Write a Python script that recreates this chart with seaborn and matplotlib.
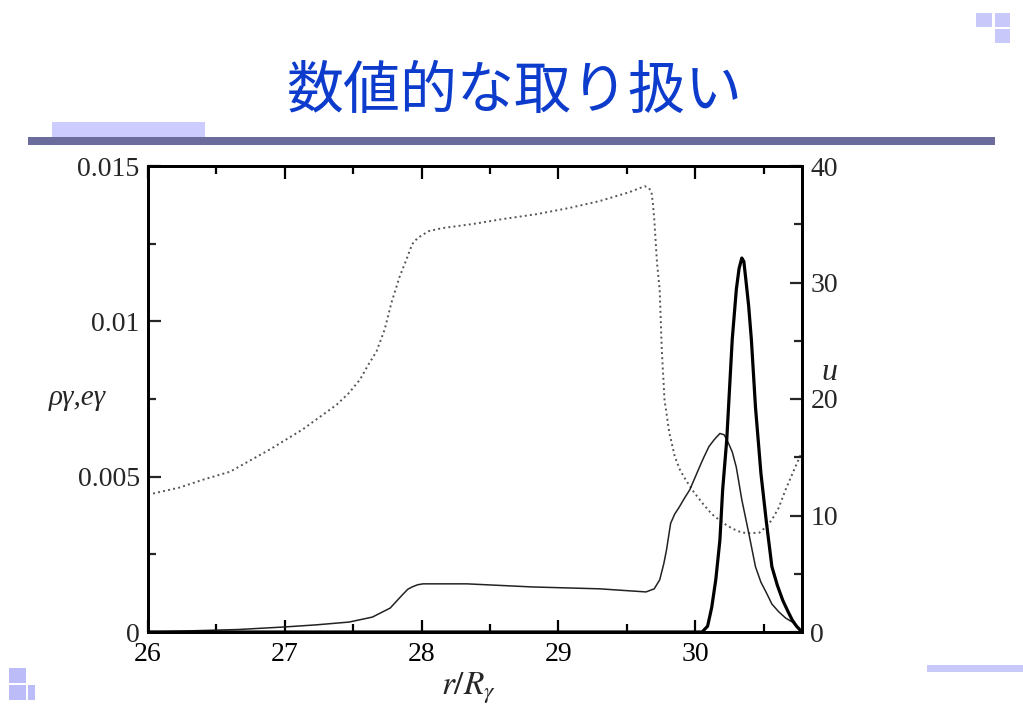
import matplotlib
matplotlib.use("Agg")
import matplotlib.pyplot as plt
import seaborn as sns
import pandas as pd
from matplotlib.patches import Rectangle
from matplotlib.ticker import MultipleLocator

# ---------------- data ----------------
dot_x = [26.00, 26.23, 26.40, 26.60, 26.75, 26.90, 27.13, 27.38, 27.47, 27.55,
         27.61, 27.67, 27.73, 27.78, 27.84, 27.89, 27.93, 27.97, 28.05, 28.15,
         28.37, 28.59, 28.84, 29.08, 29.30, 29.52, 29.63, 29.66, 29.68, 29.69,
         29.70, 29.72, 29.74, 29.755, 29.775, 29.81, 29.85, 29.89, 29.93, 29.99,
         30.05, 30.12, 30.20, 30.27, 30.34, 30.40, 30.47, 30.52, 30.56, 30.61,
         30.66, 30.72, 30.78]
dot_y = [0.00442, 0.00465, 0.00490, 0.00516, 0.00553, 0.00590, 0.00652, 0.00732, 0.00770, 0.00813,
         0.00860, 0.00903, 0.00974, 0.01061, 0.01145, 0.01200, 0.01248, 0.01268, 0.01290, 0.01300,
         0.01313, 0.01329, 0.01345, 0.01365, 0.01387, 0.01416, 0.01435, 0.01430, 0.01416, 0.01380,
         0.01330, 0.01190, 0.01100, 0.00910, 0.00748, 0.00642, 0.00565, 0.00520, 0.00490, 0.00450,
         0.00416, 0.00380, 0.00352, 0.00333, 0.00320, 0.00318, 0.00320, 0.00340, 0.00361, 0.00400,
         0.00458, 0.00520, 0.00580]

thin_x = [26.00, 26.66, 26.99, 27.23, 27.47, 27.64, 27.77, 27.86, 27.90, 27.93,
          27.97, 28.01, 28.33, 28.81, 29.30, 29.64, 29.70, 29.74, 29.77, 29.79,
          29.82, 29.85, 29.88, 29.92, 29.96, 30.03, 30.06, 30.10, 30.14, 30.18,
          30.21, 30.23, 30.27, 30.30, 30.34, 30.39, 30.44, 30.48, 30.52, 30.56,
          30.61, 30.66, 30.71, 30.78]
thin_y = [0.0, 0.00008, 0.00016, 0.00023, 0.00032, 0.00048, 0.00077, 0.00120, 0.00138, 0.00145,
          0.00152, 0.00155, 0.00155, 0.00145, 0.00139, 0.00129, 0.00139, 0.00168, 0.00220, 0.00265,
          0.00350, 0.00380, 0.00400, 0.00430, 0.00458, 0.00530, 0.00560, 0.00597, 0.00620, 0.00639,
          0.00635, 0.00620, 0.00580, 0.00530, 0.00426, 0.00320, 0.00210, 0.00160, 0.00126, 0.00090,
          0.00065, 0.00045, 0.00032, 0.0]

u_x = [26.00, 30.05, 30.09, 30.12, 30.15, 30.18, 30.20, 30.23, 30.25, 30.27,
       30.30, 30.32, 30.34, 30.355, 30.37, 30.39, 30.41, 30.44, 30.48, 30.52,
       30.56, 30.60, 30.64, 30.68, 30.71, 30.74, 30.78]
u_y = [0.0, 0.0, 0.5, 2.1, 4.5, 7.9, 12.2, 16.5, 20.8, 25.1,
       29.4, 31.2, 32.1, 31.8, 30.2, 28.0, 25.1, 19.3, 13.6, 9.4,
       5.6, 4.0, 2.7, 1.7, 1.0, 0.5, 0.0]

x_ticks = [26, 27, 28, 29, 30]
x_tick_labels = ["26", "27", "28", "29", "30"]
left_ticks = [0, 0.005, 0.01, 0.015]
left_tick_labels = ["0", "0.005", "0.01", "0.015"]
right_ticks = [0, 10, 20, 30, 40]
right_tick_labels = ["0", "10", "20", "30", "40"]

title_text = "数値的な取り扱い"
left_label = "ργ,eγ"
right_label = "u"
x_label = r"$r/R_\gamma$"

# ---------------- style ----------------
sns.set_style("white")
plt.rcParams["font.family"] = ["Liberation Serif", "DejaVu Serif"]
plt.rcParams["mathtext.fontset"] = "stix"

W, H = 1023, 708
fig = plt.figure(figsize=(W / 100, H / 100), dpi=100)
fig.patch.set_facecolor("white")


def rect(x0, y0, x1, y1, color):
    fig.add_artist(Rectangle((x0 / W, 1 - y1 / H), (x1 - x0) / W, (y1 - y0) / H,
                             transform=fig.transFigure, facecolor=color,
                             edgecolor="none", zorder=0))


# decorations
rect(28, 137, 995, 145, "#6b6b9c")
rect(52, 122, 205, 137, "#ccccff")
rect(927, 665, 1023, 672, "#c8c8fa")
rect(976, 13, 992, 27, "#c8c8fa")
rect(995, 13, 1010, 27, "#c8c8fa")
rect(995, 29, 1010, 43, "#c8c8fa")
rect(9, 668, 26, 683, "#bcbcf8")
rect(9, 685, 26, 700, "#bcbcf8")
rect(28, 685, 35, 700, "#bcbcf8")

fig.text(514 / W, 1 - 92 / H, title_text, ha="center", va="center",
         fontsize=41, color="#0d3ccc",
         family=["Noto Sans CJK JP", "DejaVu Sans"])

# axes
ax = fig.add_axes([148 / W, 1 - 632 / H, (802 - 148) / W, (632 - 166) / H])
ax.set_facecolor("white")

df_dot = pd.DataFrame({"x": dot_x, "y": dot_y})
df_thin = pd.DataFrame({"x": thin_x, "y": thin_y})
df_u = pd.DataFrame({"x": u_x, "y": u_y})

sns.lineplot(data=df_dot, x="x", y="y", ax=ax, color="#555555",
             linestyle=":", linewidth=1.4, estimator=None, sort=False)
sns.lineplot(data=df_thin, x="x", y="y", ax=ax, color="#222222",
             linewidth=1.1, estimator=None, sort=False)

ax2 = ax.twinx()
sns.lineplot(data=df_u, x="x", y="y", ax=ax2, color="black",
             linewidth=2.3, estimator=None, sort=False)

ax.set_xlim(26, 30.78)
ax.set_ylim(0, 0.015)
ax2.set_ylim(0, 40)

ax.set_xticks(x_ticks)
ax.set_xticklabels(x_tick_labels)
ax.xaxis.set_minor_locator(MultipleLocator(0.5))
ax.set_yticks(left_ticks)
ax.set_yticklabels(left_tick_labels)
ax.yaxis.set_minor_locator(MultipleLocator(0.0025))
ax2.set_yticks(right_ticks)
ax2.set_yticklabels(right_tick_labels)
ax2.yaxis.set_minor_locator(MultipleLocator(5))

ax.tick_params(axis="x", which="both", direction="in", top=True, bottom=True,
               labelsize=20, pad=7, width=1.6, colors="black")
ax.tick_params(axis="x", which="major", length=9)
ax.tick_params(axis="x", which="minor", length=6)
ax.tick_params(axis="y", which="both", direction="in", left=True, right=False,
               labelsize=20, pad=6, width=1.6)
ax.tick_params(axis="y", which="major", length=9)
ax.tick_params(axis="y", which="minor", length=6)
ax2.tick_params(axis="y", which="both", direction="in", right=True,
                labelsize=20, pad=6, width=1.6)
ax2.tick_params(axis="y", which="major", length=9)
ax2.tick_params(axis="y", which="minor", length=6)

for a in (ax, ax2):
    for s in a.spines.values():
        s.set_visible(True)
        s.set_linewidth(2.0)
        s.set_color("black")

ax.set_xlabel("")
ax.set_ylabel("")
ax2.set_ylabel("")

fig.text(77 / W, 1 - 398 / H, left_label, ha="center", va="center",
         fontsize=21, style="italic")
fig.text(829 / W, 1 - 372 / H, right_label, ha="center", va="center",
         fontsize=23, style="italic")
fig.text(468 / W, 1 - 688 / H, x_label, ha="center", va="center",
         fontsize=24)

fig.savefig("out.png", dpi=100, facecolor="white")
